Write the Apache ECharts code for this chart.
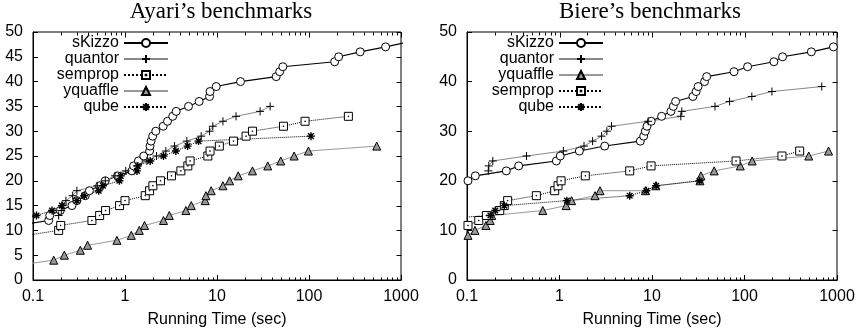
<!DOCTYPE html>
<html><head><meta charset="utf-8">
<script src="https://cdn.jsdelivr.net/npm/echarts@6/dist/echarts.min.js"></script>
<style>html,body{margin:0;padding:0;background:#fff}#c{width:863px;height:336px}</style>
</head><body><div id="c"></div>
<script>
// ---------- data ----------
const titles = ['Ayari\u2019s benchmarks', 'Biere\u2019s benchmarks'];
const xAxisName = 'Running Time (sec)';
const xTickLabels = ['0.1', '1', '10', '100', '1000'];
const majorTickValues = [0.1, 1, 10, 100, 1000];
const minorTickValues = [0.2,0.3,0.4,0.5,0.6,0.7,0.8,0.9,2,3,4,5,6,7,8,9,20,30,40,50,60,70,80,90,200,300,400,500,600,700,800,900];
const yTicksLeft = [0,5,10,15,20,25,30,35,40,45,50];
const yTicksRight = [0,10,20,30,40,50];
const legendLeft = ['sKizzo', 'quantor', 'semprop', 'yquaffle', 'qube'];
const legendRight = ['sKizzo', 'quantor', 'yquaffle', 'semprop', 'qube'];

// Ayari's benchmarks: time (sec) and number of solved instances
const ay_skizzo_t = [0.068,0.148,0.152,0.198,0.265,0.30,0.37,0.41,0.53,0.61,0.83,1.19,1.24,1.4,1.6,1.85,1.87,1.92,2.0,2.16,2.6,2.9,3.3,3.6,4.9,6.4,8.3,8.4,9.8,18,44,48,52,190,210,360,680,1200];
const ay_skizzo_n = [11,12,13,14,15,16,17,18,19,20,21,22,23,24,25,26,27,28,29,30,31,32,33,34,35,36,37,38,39,40,41,42,43,44,45,46,47,48];
const ay_quantor_t = [0.19,0.203,0.21,0.228,0.27,0.30,0.5,0.61,0.78,1.02,1.35,1.73,2.2,2.78,3.45,4.7,6.73,8.3,9.0,11.6,16.1,29.4,37.8];
const ay_quantor_n = [13,14,15,16,17,18,19,20,21,22,23,24,25,26,27,28,29,30,31,32,33,34,35];
const ay_semprop_t = [0.085,0.19,0.2,0.437,0.53,0.615,0.873,1.0,1.66,1.85,2.01,2.43,3.2,4.05,4.82,5.1,7.95,8.4,10.6,15.1,20.7,24.3,52.8,90.6,268];
const ay_semprop_n = [9,10,11,12,13,14,15,16,17,18,19,20,21,22,23,24,25,26,27,28,29,30,31,32,33];
const ay_yquaffle_t = [0.071,0.168,0.219,0.327,0.392,0.817,1.17,1.43,1.63,2.62,3.03,4.59,5.25,7.44,7.57,8.65,11.6,13.7,17,24.3,35.6,49.3,68.9,98.6,545];
const ay_yquaffle_n = [3,4,5,6,7,8,9,10,11,12,13,14,15,16,17,18,19,20,21,22,23,24,25,26,27];
const ay_qube_t = [0.07,0.109,0.161,0.206,0.3,0.36,0.517,0.576,0.87,0.9,1.35,1.38,1.88,2.62,3.57,4.79,6.3,105];
const ay_qube_n = [12,13,14,15,16,17,18,19,20,21,22,23,24,25,26,27,28,29];

// Biere's benchmarks
const bi_skizzo_t = [0.1025,0.123,0.266,0.362,0.925,1.02,1.64,3.08,7.48,8.13,8.47,8.83,9.8,12.7,16.0,17.0,18.0,27.7,30.0,31.5,37.0,39.0,77.0,108,208,258,528,915];
const bi_skizzo_n = [20,21,22,23,24,25,26,27,28,29,30,31,32,33,34,35,36,37,38,39,40,41,42,43,44,45,46,47];
const bi_quantor_t = [0.17,0.172,0.19,0.44,1.1,1.84,2.28,2.85,3.25,3.65,9.1,20.5,21,48,69,120,198,684];
const bi_quantor_n = [22,23,24,25,26,27,28,29,30,31,32,33,34,35,36,37,38,39];
const bi_yquaffle_t = [0.1025,0.122,0.16,0.178,0.185,0.66,1.18,1.35,2.42,2.74,8.5,11,33,33.8,47,90,121,495,810];
const bi_yquaffle_n = [9,10,11,12,13,14,15,16,17,18,18,19,20,21,22,23,24,25,26];
const bi_semprop_t = [0.1025,0.134,0.162,0.226,0.253,0.275,0.562,0.887,0.964,1.04,1.9,5.74,9.77,81,254,395];
const bi_semprop_n = [11,12,13,14,15,16,17,18,19,20,21,22,23,24,25,26];
const bi_qube_t = [0.025,0.179,0.202,0.253,1.2,5.74,8.69,11.1,32.7];
const bi_qube_n = [12,13,14,15,16,17,18,19,20];

// ---------- styling ----------
const FONT = 'Liberation Sans';
const CIRCLE = 'path://M5,0A5,5,0,1,1,5,10A5,5,0,1,1,5,0Z';
const PLUS = 'path://M5,0L5,10M0,5L10,5';
const STAR = 'path://M5,0L5,10M0,5L10,5M1.5,1.5L8.5,8.5M1.5,8.5L8.5,1.5';
const SQUARE = 'path://M0,0L10,0L10,10L0,10ZM4.6,4.6L5.4,4.6L5.4,5.4L4.6,5.4Z';
const styles = {
  sKizzo:   {symbol: CIRCLE, symbolSize: 8, lineStyle: {color: '#000', width: 1.1}, itemStyle: {color: '#fff', borderColor: '#000', borderWidth: 1}},
  quantor:  {symbol: PLUS, symbolSize: 8, lineStyle: {color: '#888', width: 1}, itemStyle: {color: '#000', borderColor: '#000', borderWidth: 1}},
  semprop:  {symbol: SQUARE, symbolSize: 8, lineStyle: {color: '#000', width: 1, type: 'dotted'}, itemStyle: {color: '#fff', borderColor: '#000', borderWidth: 1}},
  yquaffle: {symbol: 'triangle', symbolSize: 8, lineStyle: {color: '#999', width: 1}, itemStyle: {color: '#999', borderColor: '#000', borderWidth: 1}},
  qube:     {symbol: STAR, symbolSize: 8, lineStyle: {color: '#000', width: 1, type: 'dotted'}, itemStyle: {color: '#000', borderColor: '#000', borderWidth: 1.4}}
};
function zip(ts, ns) { return ts.map((t, i) => [t, ns[i]]); }
function mkSeries(name, ts, ns, xi, yi) {
  const s = styles[name];
  return Object.assign({
    type: 'line', name: name, xAxisIndex: xi, yAxisIndex: yi,
    data: zip(ts, ns), clip: true, showAllSymbol: true, silent: true,
    emphasis: {disabled: true}, z: 3
  }, JSON.parse(JSON.stringify(s)));
}
// mirrored / minor ticks drawn through the axes' own scales
function tickSeries(xi, yi, yTicks) {
  const data = [];
  majorTickValues.forEach(v => data.push([v, 0, 0]));
  minorTickValues.forEach(v => data.push([v, 0, 1]));
  yTicks.forEach(v => data.push([1000, v, 2]));
  return {
    type: 'custom', xAxisIndex: xi, yAxisIndex: yi, silent: true, clip: false, z: 6, data: data,
    renderItem: function (params, api) {
      const x = api.value(0), y = api.value(1), k = api.value(2);
      const st = {stroke: '#000', lineWidth: 1};
      if (k === 2) {
        const p = api.coord([x, y]);
        const yy = Math.round(p[1]) + 0.5, xx = Math.round(p[0]) + 0.5;
        return {type: 'line', shape: {x1: xx, y1: yy, x2: xx - 5, y2: yy}, style: st};
      }
      const len = k === 0 ? 5 : 3;
      const b = api.coord([x, 0]), t = api.coord([x, 50]);
      const bx = Math.round(b[0]) + 0.5, by = Math.round(b[1]) + 0.5, ty = Math.round(t[1]) + 0.5;
      const ch = [{type: 'line', shape: {x1: bx, y1: ty, x2: bx, y2: ty + len}, style: st}];
      if (k === 1) ch.push({type: 'line', shape: {x1: bx, y1: by, x2: bx, y2: by - len}, style: st});
      return {type: 'group', children: ch};
    }
  };
}

const grids = [
  {left: 33, top: 32, width: 368, height: 248, show: true, borderColor: '#000', borderWidth: 1},
  {left: 467, top: 32, width: 370, height: 248, show: true, borderColor: '#000', borderWidth: 1}
];
const lineBlack = {show: true, lineStyle: {color: '#000', width: 1}};
function xAxis(g) {
  return {gridIndex: g, type: 'log', logBase: 10, min: 0.1, max: 1000, position: 'bottom',
    splitLine: {show: false}, axisLine: lineBlack, silent: true,
    axisTick: {inside: true, length: 5, lineStyle: {color: '#000'}},
    axisLabel: {margin: 9, fontSize: 16, fontFamily: FONT, color: '#000',
      formatter: v => xTickLabels[Math.round(Math.log10(v)) + 1]},
    name: xAxisName, nameLocation: 'middle', nameGap: 32,
    nameTextStyle: {fontSize: 16, fontFamily: FONT, color: '#000'}};
}
function yAxis(g, step) {
  return {gridIndex: g, type: 'value', min: 0, max: 50, interval: step, position: 'left',
    splitLine: {show: false}, axisLine: lineBlack, silent: true,
    axisTick: {inside: true, length: 5, lineStyle: {color: '#000'}},
    axisLabel: {margin: 10, fontSize: 16, fontFamily: FONT, color: '#000'}};
}
function legend(data, right) {
  return {orient: 'vertical', align: 'right', right: right, top: 35, padding: 0,
    itemWidth: 44, itemHeight: 10, itemGap: 0, selectedMode: false,
    textStyle: {fontSize: 16, lineHeight: 16, fontFamily: FONT, color: '#000'}, data: data};
}

const series = [
  mkSeries('sKizzo', ay_skizzo_t, ay_skizzo_n, 0, 0),
  mkSeries('quantor', ay_quantor_t, ay_quantor_n, 0, 0),
  mkSeries('semprop', ay_semprop_t, ay_semprop_n, 0, 0),
  mkSeries('yquaffle', ay_yquaffle_t, ay_yquaffle_n, 0, 0),
  mkSeries('qube', ay_qube_t, ay_qube_n, 0, 0),
  mkSeries('sKizzo', bi_skizzo_t, bi_skizzo_n, 1, 1),
  mkSeries('quantor', bi_quantor_t, bi_quantor_n, 1, 1),
  mkSeries('yquaffle', bi_yquaffle_t, bi_yquaffle_n, 1, 1),
  mkSeries('semprop', bi_semprop_t, bi_semprop_n, 1, 1),
  mkSeries('qube', bi_qube_t, bi_qube_n, 1, 1),
  tickSeries(0, 0, yTicksLeft),
  tickSeries(1, 1, yTicksRight)
];

const chart = echarts.init(document.getElementById('c'), null, {renderer: 'canvas'});
chart.setOption({
  animation: false,
  backgroundColor: '#fff',
  title: [
    {text: titles[0], left: 221, top: 0, textAlign: 'center', padding: 0,
      textStyle: {fontFamily: 'Liberation Serif', fontWeight: 'normal', fontSize: 23, color: '#000'}},
    {text: titles[1], left: 650, top: 0, textAlign: 'center', padding: 0,
      textStyle: {fontFamily: 'Liberation Serif', fontWeight: 'normal', fontSize: 23, color: '#000'}}
  ],
  legend: [legend(legendLeft, 694), legend(legendRight, 259)],
  grid: grids,
  xAxis: [xAxis(0), xAxis(1)],
  yAxis: [yAxis(0, 5), yAxis(1, 10)],
  series: series
});
</script></body></html>
